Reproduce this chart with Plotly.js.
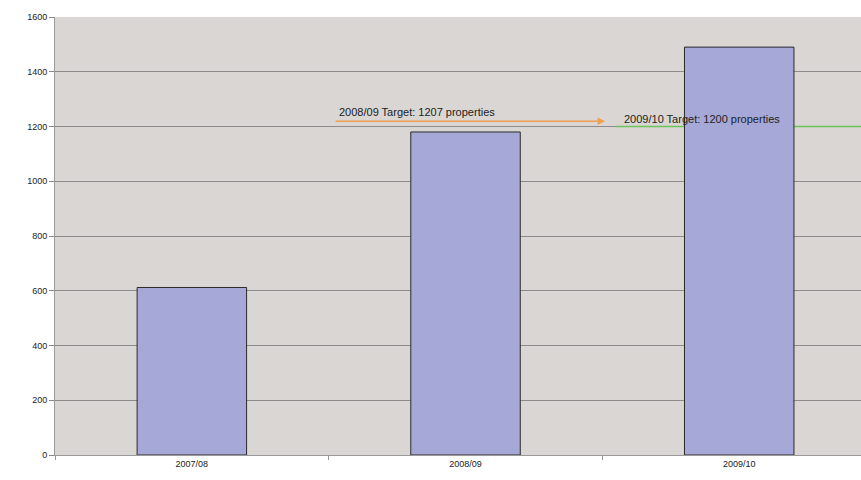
<!DOCTYPE html>
<html><head><meta charset="utf-8">
<script src="https://cdn.plot.ly/plotly-3.0.1.min.js"></script>
<style>html,body{margin:0;padding:0;background:#fff;}#c{width:861px;height:480px;}</style>
</head><body><div id="c"></div>
<script>
const categories = ["2007/08", "2008/09", "2009/10"];
const properties = [612, 1180, 1490];
const targetLabels = ["2008/09 Target: 1207 properties", "2009/10 Target: 1200 properties"];
const targetValues = [1207, 1200];
const yTicks = [0, 200, 400, 600, 800, 1000, 1200, 1400, 1600];

const trace = {
  type: "bar", x: categories, y: properties, width: 0.4,
  marker: {color: "#a6a8d8", line: {color: "#2a2a2a", width: 1}},
  hoverinfo: "x+y"
};
const layout = {
  width: 861, height: 480,
  margin: {l: 55, r: 0, t: 17, b: 25},
  paper_bgcolor: "#ffffff", plot_bgcolor: "#d9d6d3",
  font: {family: "Liberation Sans, Arial, sans-serif", size: 9, color: "#222"},
  showlegend: false,
  xaxis: {type: "category", range: [-0.5, 2.445], tickson: "boundaries", ticks: "outside",
          ticklen: 4, tickcolor: "#999", showline: true, linecolor: "#999", showgrid: false,
          tickfont: {size: 9, color: "#222"}},
  yaxis: {range: [0, 1600], tickvals: yTicks, ticks: "outside", ticklen: 5, tickcolor: "#888",
          showline: true, linecolor: "#999", gridcolor: "#8c8c8c", gridwidth: 1, zeroline: false,
          tickfont: {size: 9, color: "#222"}},
  shapes: [
    {type: "line", layer: "between", xref: "x", yref: "y", x0: 1.547, x1: 2.5,
     y0: targetValues[1], y1: targetValues[1], line: {color: "#6cc35a", width: 1.5}}
  ],
  annotations: [
    {xref: "x", yref: "y", axref: "x", ayref: "y", x: 1.51, y: targetValues[0] + 12,
     ax: 0.52, ay: targetValues[0] + 12, text: "", showarrow: true, arrowhead: 2,
     arrowsize: 1, arrowwidth: 1.5, arrowcolor: "#f0a050"},
    {xref: "x", yref: "y", x: 0.53, y: targetValues[0] + 12, xanchor: "left", yanchor: "bottom",
     yshift: 1, text: targetLabels[0], showarrow: false, font: {size: 11, color: "#222"}},
    {xref: "x", yref: "y", x: 1.57, y: targetValues[1], xanchor: "left", yanchor: "bottom",
     yshift: 0, text: targetLabels[1], showarrow: false, font: {size: 11, color: "#222"}}
  ]
};
Plotly.newPlot("c", [trace], layout, {displayModeBar: false, staticPlot: true});
</script></body></html>
